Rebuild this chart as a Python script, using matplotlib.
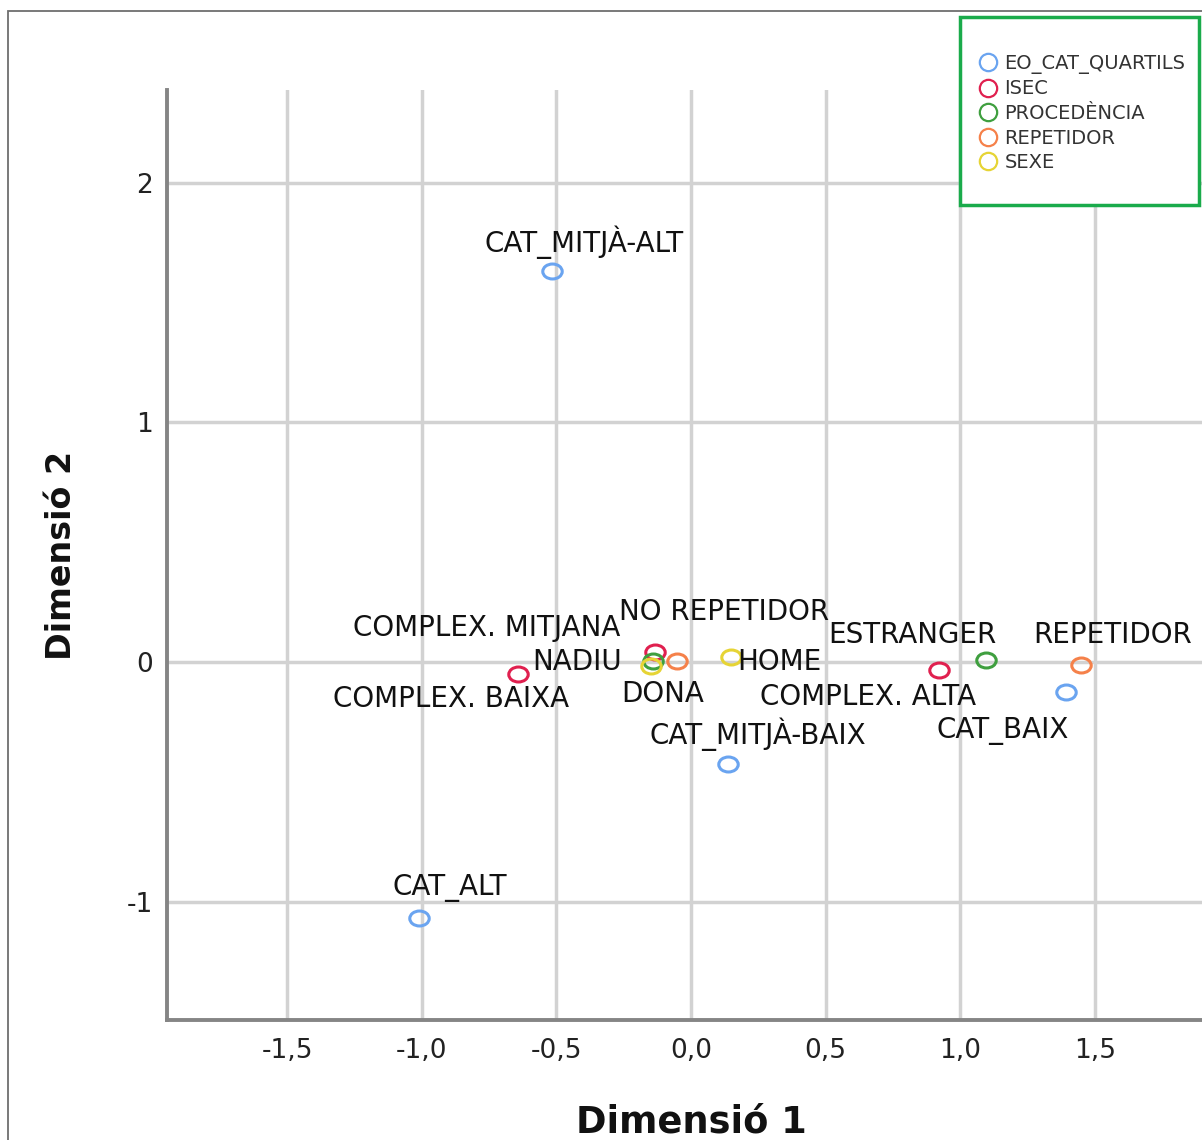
import matplotlib
matplotlib.use('Agg')
from matplotlib import pyplot as plt
from matplotlib.lines import Line2D
from matplotlib.markers import MarkerStyle
from matplotlib.patches import Rectangle
from matplotlib.path import Path
from matplotlib.transforms import Affine2D

# variables (legend) and their colours
VARS = ['EO_CAT_QUARTILS', 'ISEC', 'PROCEDÈNCIA', 'REPETIDOR', 'SEXE']
COLORS = ['#6aa4f0', '#e0204f', '#3f9f3f', '#f5814a', '#e6d435']

# category points
labels = ['CAT_MITJÀ-ALT', 'CAT_ALT', 'CAT_MITJÀ-BAIX', 'CAT_BAIX',
          'COMPLEX. BAIXA', 'COMPLEX. MITJANA', 'COMPLEX. ALTA',
          'NADIU', 'ESTRANGER',
          'NO REPETIDOR', 'REPETIDOR',
          'DONA', 'HOME']
groups = [0, 0, 0, 0, 1, 1, 1, 2, 2, 3, 3, 4, 4]
dim1 = [-0.516, -1.010, 0.137, 1.392, -0.642, -0.134, 0.921,
        -0.141, 1.095, -0.052, 1.448, -0.149, 0.149]
dim2 = [1.631, -1.068, -0.426, -0.125, -0.050, 0.042, -0.033,
        0.004, 0.008, 0.004, -0.013, -0.017, 0.021]

# label offsets from the point, in pixels
offsets = [(32, 29), (31, 30), (30, 30), (-63, -39),
           (-67, -25), (-168, 24), (-71, -27),
           (-76, -1), (-73, 25),
           (47, 49), (32, 30),
           (12, -28), (48, -5)]

xticks = [-1.5, -1.0, -0.5, 0.0, 0.5, 1.0, 1.5]
xticklabels = ['-1,5', '-1,0', '-0,5', '0,0', '0,5', '1,0', '1,5']
yticks = [-1, 0, 1, 2]
yticklabels = ['-1', '0', '1', '2']

plt.rcParams['font.family'] = ['DejaVu Sans']

W, H = 1202, 1140
fig = plt.figure(figsize=(W / 100, H / 100), dpi=100)
ax = fig.add_axes([167 / W, 1 - 1020 / H, (1215 - 167) / W, (1020 - 90) / H])

# outer frame of the picture
fig.patches.append(Rectangle((8 / W, -0.05), 1.2, 1.05 - 11 / H, transform=fig.transFigure,
                             fill=False, edgecolor='#6e6e6e', linewidth=1.3))

ell = MarkerStyle(Path.unit_circle().transformed(Affine2D().scale(1.3, 1.0)))
for i in range(len(labels)):
    c = COLORS[groups[i]]
    ax.plot(dim1[i], dim2[i], linestyle='none', marker=ell, markersize=14,
            markerfacecolor='none', markeredgecolor=c, markeredgewidth=2.2, zorder=3)
    ax.annotate(labels[i], (dim1[i], dim2[i]), xytext=offsets[i], textcoords='offset pixels',
                ha='center', va='center', fontsize=20, color='#111111', zorder=4)

ax.set_xlim(-1.946, 1.946)
ax.set_ylim(-1.494, 2.386)
ax.set_xticks(xticks)
ax.set_xticklabels(xticklabels)
ax.set_yticks(yticks)
ax.set_yticklabels(yticklabels)
ax.tick_params(axis='both', length=0, labelsize=19, labelcolor='#222222')
ax.tick_params(axis='x', pad=13)
ax.tick_params(axis='y', pad=10)
ax.grid(True, color='#d2d2d2', linewidth=2.5)
ax.set_axisbelow(True)
for s in ['top', 'right']:
    ax.spines[s].set_visible(False)
for s in ['left', 'bottom']:
    ax.spines[s].set_color('#858585')
    ax.spines[s].set_linewidth(2.8)

ax.set_xlabel('Dimensió 1', fontsize=26.5, fontweight='bold', color='#111111')
ax.set_ylabel('Dimensió 2', fontsize=24, fontweight='bold', color='#111111')
ax.xaxis.label.set_va('center')
ax.xaxis.set_label_coords(0.5, (1020 - 1122) / 930)
ax.yaxis.label.set_rotation_mode('default')
ax.yaxis.label.set_va('center')
ax.yaxis.set_label_coords((62 - 167) / 1048, 0.5)

# legend box (white, covers the grid) and entries
fig.patches.append(Rectangle((960 / W, 1 - 205 / H), (1199 - 960) / W, (205 - 17) / H,
                             transform=fig.transFigure, facecolor='white',
                             edgecolor='#1aab4b', linewidth=2.5, zorder=4))
handles = [Line2D([], [], linestyle='none', marker='o', markersize=12.5,
                  markerfacecolor='none', markeredgecolor=c, markeredgewidth=1.6)
           for c in COLORS]
leg = fig.legend(handles, VARS, loc='center left', bbox_to_anchor=(978 / W, 1 - 113 / H),
                 frameon=False, borderpad=0, fontsize=14, handlelength=1.0,
                 handletextpad=0.35, labelspacing=0.29, borderaxespad=0)
leg.set_zorder(5)
for t in leg.get_texts():
    t.set_color('#333333')

fig.savefig('out.png', dpi=100)
